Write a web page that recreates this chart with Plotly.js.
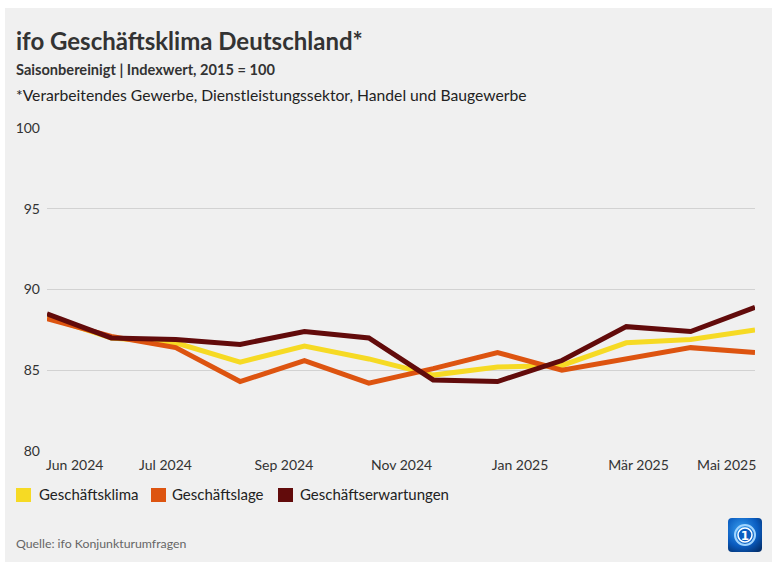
<!DOCTYPE html>
<html>
<head>
<meta charset="utf-8">
<script src="https://cdn.plot.ly/plotly-3.0.1.min.js"></script>
<style>
html,body{margin:0;padding:0;background:#ffffff;}
#chart{position:absolute;left:5px;top:8px;width:767px;height:554px;}
</style>
</head>
<body>
<div id="chart"></div>
<script>
// Data (Jun 2024 – Mai 2025)
var months = ["Jun 2024","Jul 2024","Aug 2024","Sep 2024","Okt 2024","Nov 2024","Dez 2024","Jan 2025","Feb 2025","Mär 2025","Apr 2025","Mai 2025"];
var klima = [88.3, 87.0, 86.7, 85.5, 86.5, 85.7, 84.7, 85.2, 85.3, 86.7, 86.9, 87.5];
var lage = [88.2, 87.1, 86.4, 84.3, 85.6, 84.2, 85.1, 86.1, 85.0, 85.7, 86.4, 86.1];
var erwartungen = [88.5, 87.0, 86.9, 86.6, 87.4, 87.0, 84.4, 84.3, 85.6, 87.7, 87.4, 88.9];
var seriesNames = ["Geschäftsklima","Geschäftslage","Geschäftserwartungen"];
var seriesColors = ["#f6da24","#dd5410","#620b0b"];
var tickLabels = ["Jun 2024","Jul 2024","Sep 2024","Nov 2024","Jan 2025","Mär 2025","Mai 2025"];
var tickPos = [0.43, 1.84, 3.68, 5.51, 7.35, 9.19, 10.56];
var yTicks = [80, 85, 90, 95, 100];

var idx = months.map(function(m,i){return i;});
var font = "Lato, 'Noto Sans', sans-serif";

var allSeries = [klima, lage, erwartungen];
var traces = allSeries.map(function(vals, k){
  return {
    type: 'scatter', mode: 'lines', x: idx, y: vals, name: seriesNames[k],
    text: months, hovertemplate: '%{text}: %{y}<extra>' + seriesNames[k] + '</extra>',
    line: {color: seriesColors[k], width: 5, shape: 'linear'},
    showlegend: false
  };
});

// Legend (drawn as shapes + text)
var legendSq = [11, 146, 273];
var legendTx = [32, 165, 293];
var W = 708, H = 323, L = 42, T = 120;
function px(x){ return (x - L) / W; }
function py(y){ return (T + H - y) / H; }
var shapes = [];
var annotations = [];
seriesNames.forEach(function(n,k){
  shapes.push({type:'rect', xref:'paper', yref:'paper', x0:px(legendSq[k]), x1:px(legendSq[k]+15), y0:py(480), y1:py(494), fillcolor:seriesColors[k], line:{width:0}});
  annotations.push({xref:'paper', yref:'paper', x:px(legendTx[k]), y:py(486), xanchor:'left', yanchor:'middle', text:n, showarrow:false, font:{family:font, size:15, color:'#222'}});
});
annotations.push({xref:'paper', yref:'paper', x:px(9), y:py(62), xanchor:'left', yanchor:'middle', text:'<b>Saisonbereinigt | Indexwert, 2015 = 100</b>', showarrow:false, font:{family:font, size:14.6, color:'#333'}});
annotations.push({xref:'paper', yref:'paper', x:px(9), y:py(87), xanchor:'left', yanchor:'middle', text:'*Verarbeitendes Gewerbe, Dienstleistungssektor, Handel und Baugewerbe', showarrow:false, font:{family:font, size:15.7, color:'#222'}});
annotations.push({xref:'paper', yref:'paper', x:px(9), y:py(535), xanchor:'left', yanchor:'middle', text:'Quelle: ifo Konjunkturumfragen', showarrow:false, font:{family:font, size:12.3, color:'#666'}});

var logo = 'data:image/svg+xml;utf8,' + encodeURIComponent(
 '<svg xmlns="http://www.w3.org/2000/svg" width="34" height="34" viewBox="0 0 34 34">' +
 '<defs><radialGradient id="g" cx="0.4" cy="0.35" r="0.8"><stop offset="0" stop-color="#3aa0f0"/><stop offset="0.6" stop-color="#0a5cc0"/><stop offset="1" stop-color="#03306e"/></radialGradient></defs>' +
 '<rect x="0" y="0" width="34" height="34" rx="4" fill="url(#g)"/>' +
 '<circle cx="17" cy="17" r="10" fill="none" stroke="#9fd4ff" stroke-width="2"/>' +
 '<circle cx="17" cy="17" r="7" fill="#0a5cc0" stroke="#ffffff" stroke-width="1.5"/>' +
 '<text x="17" y="21.5" font-family="DejaVu Sans" font-weight="bold" font-size="12" fill="#ffffff" text-anchor="middle">1</text>' +
 '</svg>');

var layout = {
  width: 767, height: 554,
  paper_bgcolor: '#f0f0f0', plot_bgcolor: 'rgba(0,0,0,0)',
  margin: {l: L, r: 17, t: T, b: 111, pad: 0},
  font: {family: font, size: 14, color: '#333'},
  title: {text: '<b>ifo Geschäftsklima Deutschland*</b>', xref: 'container', yref: 'container', x: 11/767, xanchor: 'left', y: 1 - 25/554, yanchor: 'top', font: {family: font, size: 24, color: '#333'}},
  xaxis: {range: [0, 11], tickmode: 'array', tickvals: tickPos, ticktext: tickLabels, showgrid: false, zeroline: false, showline: false, ticks: '', ticklabelstandoff: 4, tickfont: {family: font, size: 14, color: '#333'}, fixedrange: true},
  yaxis: {range: [80, 100], tickmode: 'array', tickvals: yTicks, ticktext: yTicks.map(String), showgrid: true, gridcolor: '#d2d2d2', gridwidth: 1, zeroline: false, showline: false, ticks: '', ticklabelstandoff: 6, tickfont: {family: font, size: 14, color: '#333'}, fixedrange: true},
  showlegend: false,
  shapes: shapes,
  annotations: annotations,
  images: [{source: logo, xref: 'paper', yref: 'paper', x: px(723), y: py(510), sizex: 34/W, sizey: 34/H, xanchor: 'left', yanchor: 'top', sizing: 'stretch', layer: 'above'}]
};
Plotly.newPlot('chart', traces, layout, {displayModeBar: false, staticPlot: false});
</script>
</body>
</html>
